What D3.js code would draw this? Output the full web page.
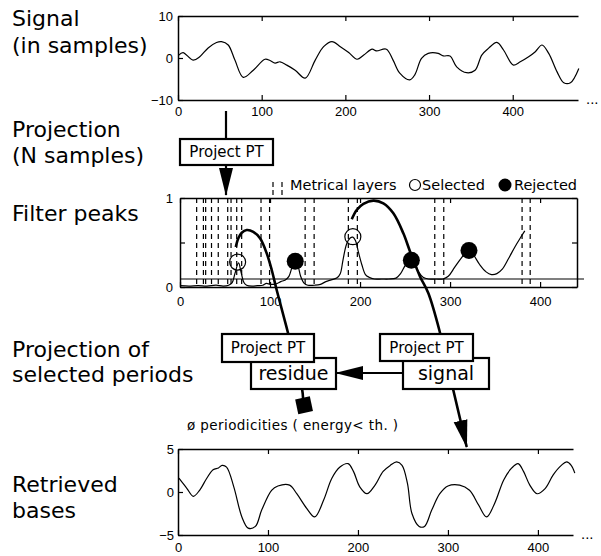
<!DOCTYPE html>
<html>
<head>
<meta charset="utf-8">
<script src="https://cdn.jsdelivr.net/npm/d3@7"></script>
<style>
  body { margin: 0; background: #fff; }
  svg { display: block; }
  .tick text { font-family: "Liberation Sans", Arial, sans-serif; font-size: 13px; fill: #000; }
  .lbl { font-family: "DejaVu Sans", sans-serif; fill: #000; }
</style>
</head>
<body>
<svg width="601" height="556"></svg>
<script>
// input signal (samples)
const signalX = [1, 6, 18, 26, 36, 46, 52, 60, 68, 78, 90, 104, 110, 116, 122, 130, 140, 152, 164, 174, 184, 194, 204, 214, 222, 232, 237, 249, 257, 265, 277, 283, 291, 299, 311, 317, 325, 333, 345, 355, 363, 371, 381, 389, 397, 401, 409, 419, 427, 435, 443, 453, 461, 469, 479];
const signalY = [0.7, 1.3, -0.5, 0.3, 2.4, 3.7, 3.9, 3.1, -0.5, -4.6, -2.9, -0.3, -0.6, -1.2, -0.9, -1.7, -2.9, -4.8, -0.5, 2.7, 3.9, 2.7, 1.3, -0.3, 0.7, 2.1, 1.7, 2.1, -0.5, -3.6, -5.2, -4.0, -0.1, 1.1, 1.1, 0.5, 0.5, -2.1, -3.5, -2.9, 0.7, 2.3, 3.7, 1.9, -0.9, -1.7, -0.9, 0.3, 1.5, 3.1, 1.1, -3.3, -5.9, -5.9, -2.5];

// periodicity spectrum (filter peaks)
const periodX = [0, 10, 20, 30, 40, 48, 54, 58, 61, 65, 68, 71, 74, 80, 86, 92, 96, 100, 104, 108, 112, 117, 121, 125, 128, 131, 134, 138, 142, 150, 156, 162, 168, 174, 178, 181, 185, 189, 192, 195, 198, 202, 206, 210, 216, 224, 232, 240, 245, 250, 254, 257, 261, 265, 270, 276, 284, 292, 298, 305, 312, 318, 321, 326, 333, 340, 346, 352, 358, 365, 372, 378, 383];
const periodY = [0.015, 0.01, 0.015, 0.01, 0.02, 0.01, 0.02, 0.05, 0.15, 0.27, 0.16, 0.05, 0.02, 0.01, 0.015, 0.02, 0.04, 0.03, 0.03, 0.04, 0.06, 0.08, 0.12, 0.24, 0.29, 0.24, 0.12, 0.04, 0.02, 0.02, 0.03, 0.06, 0.08, 0.1, 0.15, 0.3, 0.48, 0.55, 0.56, 0.52, 0.4, 0.25, 0.14, 0.11, 0.09, 0.09, 0.09, 0.1, 0.15, 0.24, 0.29, 0.3, 0.26, 0.17, 0.11, 0.09, 0.09, 0.09, 0.12, 0.22, 0.32, 0.39, 0.41, 0.36, 0.25, 0.17, 0.14, 0.15, 0.2, 0.32, 0.45, 0.55, 0.63];
const metricalLayers = [18.5, 26, 28.5, 35, 42.5, 53, 56.7, 63, 68.5, 90, 99.5, 139, 149, 187, 197, 283, 293, 380, 389];
const threshold = 0.09;
const selected = [[64, 0.28], [192, 0.565]];
const rejected = [[128, 0.29], [257, 0.30], [321, 0.41]];

// retrieved bases
const basesX = [1, 10, 17, 24, 32, 39, 45, 49, 54, 62, 71, 78, 86, 93, 104, 111, 124, 132, 143, 152, 162, 171, 180, 189, 195, 202, 210, 219, 228, 236, 243, 249, 255, 260, 268, 274, 282, 291, 300, 313, 324, 334, 343, 352, 362, 371, 378, 384, 391, 399, 408, 417, 426, 432, 437, 441];
const basesY = [1.6, 0.4, -0.5, 0.2, 1.6, 2.6, 2.8, 3.1, 2.9, 0.6, -2.9, -4.2, -4.0, -2.1, 0.2, 0.7, 0.8, -0.2, -1.9, -2.9, -0.9, 1.6, 2.9, 3.3, 2.4, 0.6, -0.2, 0.8, 2.4, 3.1, 3.5, 3.1, 1.0, -2.5, -4.0, -4.0, -2.1, -0.2, 0.7, 0.8, 0.2, -1.5, -2.9, -1.3, 1.4, 2.8, 3.3, 2.4, 0.8, -0.2, 0.4, 2.0, 3.1, 3.5, 3.1, 2.2];

const xTicks = [0, 100, 200, 300, 400];

// projection arrows, in units of the filter-peaks panel
const arcSelected = [[62, 0.45], [64.8, 0.547], [68.6, 0.61], [74.1, 0.64], [81.4, 0.62], [88.9, 0.547], [96.3, 0.379], [101.9, 0.191], [107.4, -0.034], [120, -0.517], [135.6, -1.146], [136.7, -1.25]];
const arcSignal = [[190.8, 0.761], [196.3, 0.865], [203.7, 0.933], [214.8, 0.97], [225.9, 0.94], [237, 0.828], [248.1, 0.603], [255.6, 0.397], [266.7, 0.116], [275.9, -0.071], [288.9, -0.517], [303.3, -1.146], [318.5, -1.798]];

const svg = d3.select("svg");
const defs = svg.append("defs");
defs.append("marker")
    .attr("id", "head")
    .attr("markerUnits", "userSpaceOnUse")
    .attr("viewBox", "0 0 28 16")
    .attr("refX", 27).attr("refY", 8)
    .attr("markerWidth", 28).attr("markerHeight", 16)
    .attr("orient", "auto")
    .append("path")
    .attr("d", "M0,1 L28,8 L0,15 Z")
    .attr("fill", "#000");

function panel(p) {
    const x = d3.scaleLinear().domain(p.xDomain).range([p.left, p.right]);
    const y = d3.scaleLinear().domain(p.yDomain).range([p.bottom, p.top]);
    const g = svg.append("g");

    g.append("g")
        .attr("transform", `translate(0,${p.bottom})`)
        .call(d3.axisBottom(x).tickValues(xTicks).tickSize(-5).tickSizeOuter(0).tickPadding(p.xPad))
        .call(a => a.select(".domain").attr("stroke-width", 1.5));
    g.append("g")
        .attr("transform", `translate(0,${p.top})`)
        .call(d3.axisTop(x).tickValues(xTicks).tickSize(-5).tickSizeOuter(0).tickFormat(""))
        .call(a => a.select(".domain").attr("stroke-width", 1.5));
    g.append("g")
        .attr("transform", `translate(${p.left},0)`)
        .call(d3.axisLeft(y).tickValues(p.yTicks).tickSize(-5).tickSizeOuter(0).tickPadding(p.yPad).tickFormat(p.yFormat || d3.format("")))
        .call(a => a.select(".domain").attr("stroke-width", 1.5));
    if (p.rightBorder) {
        g.append("g")
            .attr("transform", `translate(${p.right},0)`)
            .call(d3.axisRight(y).tickValues(p.yTicks).tickSize(-5).tickSizeOuter(0).tickFormat(""))
            .call(a => a.select(".domain").attr("stroke-width", 1.5));
    }
    g.selectAll(".tick line").attr("stroke-width", 1.2);
    if (p.dots) {
        g.append("text").attr("class", "lbl")
            .attr("x", p.right + 8).attr("y", p.bottom + 4)
            .style("font-family", "Liberation Sans, Arial, sans-serif")
            .style("font-size", "15px")
            .text("...");
    }
    return {x, y, g};
}

// ---- top: signal
const sigP = panel({left: 178, right: 578, top: 16, bottom: 100, xDomain: [0, 478], yDomain: [-10, 10],
    yTicks: [-10, 0, 10], xPad: 7, yPad: 5, dots: true});
sigP.g.append("path")
    .datum(d3.zip(signalX, signalY))
    .attr("fill", "none").attr("stroke", "#000").attr("stroke-width", 1.2)
    .attr("d", d3.line().x(d => sigP.x(d[0])).y(d => sigP.y(d[1])).curve(d3.curveCatmullRom));

// ---- middle: filter peaks
const mid = panel({left: 180, right: 577, top: 198, bottom: 287, xDomain: [0, 441], yDomain: [0, 1],
    yTicks: [0, 0.5, 1], xPad: 10, yPad: 7, rightBorder: true,
    yFormat: d => (d === 0.5 ? "" : d3.format("")(d))});
mid.g.selectAll(".layer")
    .data(metricalLayers)
    .join("line")
    .attr("x1", d => mid.x(d)).attr("x2", d => mid.x(d))
    .attr("y1", mid.y(1)).attr("y2", mid.y(0))
    .attr("stroke", "#000").attr("stroke-width", 1.2)
    .attr("stroke-dasharray", "5,4");
mid.g.append("line")
    .attr("x1", mid.x(0)).attr("x2", mid.x.range()[1] + 7)
    .attr("y1", mid.y(threshold)).attr("y2", mid.y(threshold))
    .attr("stroke", "#000").attr("stroke-width", 1.2);
mid.g.append("path")
    .datum(d3.zip(periodX, periodY))
    .attr("fill", "none").attr("stroke", "#000").attr("stroke-width", 1.2)
    .attr("d", d3.line().x(d => mid.x(d[0])).y(d => mid.y(d[1])).curve(d3.curveCatmullRom));
mid.g.selectAll(".sel")
    .data(selected)
    .join("circle")
    .attr("cx", d => mid.x(d[0])).attr("cy", d => mid.y(d[1])).attr("r", 8)
    .attr("fill", "none").attr("stroke", "#000").attr("stroke-width", 1.2);
mid.g.selectAll(".rej")
    .data(rejected)
    .join("circle")
    .attr("cx", d => mid.x(d[0])).attr("cy", d => mid.y(d[1])).attr("r", 8.5)
    .attr("fill", "#000");

// ---- bottom: retrieved bases
const bot = panel({left: 178, right: 573, top: 449, bottom: 535, xDomain: [0, 439], yDomain: [-5, 5],
    yTicks: [-5, 0, 5], xPad: 8, yPad: 4, dots: true});
bot.g.append("path")
    .datum(d3.zip(basesX, basesY))
    .attr("fill", "none").attr("stroke", "#000").attr("stroke-width", 1.2)
    .attr("d", d3.line().x(d => bot.x(d[0])).y(d => bot.y(d[1])).curve(d3.curveCatmullRom));

// legend
const lg = svg.append("g");
[273, 282].forEach(x => lg.append("line")
    .attr("x1", x).attr("x2", x).attr("y1", 182).attr("y2", 195)
    .attr("stroke", "#000").attr("stroke-width", 1.2).attr("stroke-dasharray", "5,3"));
lg.append("text").attr("class", "lbl").attr("x", 290).attr("y", 190).style("font-size", "14.5px").text("Metrical layers");
lg.append("circle").attr("cx", 415).attr("cy", 185).attr("r", 5.5).attr("fill", "none").attr("stroke", "#000").attr("stroke-width", 1.2);
lg.append("text").attr("class", "lbl").attr("x", 422).attr("y", 190).style("font-size", "14.5px").text("Selected");
lg.append("circle").attr("cx", 505).attr("cy", 185).attr("r", 6.5).attr("fill", "#000");
lg.append("text").attr("class", "lbl").attr("x", 514).attr("y", 190).style("font-size", "14.5px").text("Rejected");

// left captions
const captions = [
    ["Signal", 26], ["(in samples)", 53],
    ["Projection", 137], ["(N samples)", 163],
    ["Filter peaks", 221],
    ["Projection of", 357], ["selected periods", 382],
    ["Retrieved", 492], ["bases", 518]
];
svg.selectAll(".cap")
    .data(captions)
    .join("text")
    .attr("class", "lbl")
    .attr("x", 12).attr("y", d => d[1])
    .style("font-size", "22px")
    .text(d => d[0]);

// projection arrows
const arc = d3.line().x(d => mid.x(d[0])).y(d => mid.y(d[1])).curve(d3.curveCatmullRom);
svg.append("path").datum(arcSelected)
    .attr("fill", "none").attr("stroke", "#000").attr("stroke-width", 2.6)
    .attr("d", arc);
svg.append("path").datum(arcSignal)
    .attr("fill", "none").attr("stroke", "#000").attr("stroke-width", 2.6)
    .attr("marker-end", "url(#head)")
    .attr("d", arc);

const endSel = arcSelected[arcSelected.length - 1];
svg.append("rect")
    .attr("x", -7.5).attr("y", -7.5).attr("width", 15).attr("height", 15)
    .attr("transform", `translate(${mid.x(endSel[0]) + 1},${mid.y(endSel[1]) + 7}) rotate(-12)`)
    .attr("fill", "#000");

// top projection arrow
svg.append("line").attr("x1", 226).attr("x2", 226).attr("y1", 111).attr("y2", 140)
    .attr("stroke", "#000").attr("stroke-width", 2.2);
svg.append("line").attr("x1", 226).attr("x2", 226).attr("y1", 165).attr("y2", 195)
    .attr("stroke", "#000").attr("stroke-width", 2.2).attr("marker-end", "url(#head)");

// signal -> residue arrow
svg.append("line").attr("x1", 403).attr("x2", 336).attr("y1", 373).attr("y2", 373)
    .attr("stroke", "#000").attr("stroke-width", 2.2).attr("marker-end", "url(#head)");

// boxes
const boxes = [
    {x: 180, y: 139, w: 93, h: 26, text: "Project PT", size: 15},
    {x: 251, y: 358, w: 85, h: 31, text: "residue", size: 19},
    {x: 222, y: 334, w: 92, h: 28, text: "Project PT", size: 15},
    {x: 403, y: 358, w: 86, h: 31, text: "signal", size: 19},
    {x: 380, y: 334, w: 93, h: 27, text: "Project PT", size: 15}
];
const bx = svg.selectAll(".box").data(boxes).join("g");
bx.append("rect")
    .attr("x", d => d.x).attr("y", d => d.y).attr("width", d => d.w).attr("height", d => d.h)
    .attr("fill", "#fff").attr("stroke", "#000").attr("stroke-width", 2.2);
bx.append("text")
    .attr("class", "lbl")
    .attr("x", d => d.x + d.w / 2).attr("y", d => d.y + d.h / 2)
    .attr("dy", "0.36em")
    .attr("text-anchor", "middle")
    .style("font-size", d => d.size + "px")
    .text(d => d.text);

svg.append("text").attr("class", "lbl")
    .attr("x", 187).attr("y", 430)
    .style("font-size", "13.5px")
    .style("letter-spacing", "0.4px")
    .text("ø periodicities ( energy< th. )");
</script>
</body>
</html>
